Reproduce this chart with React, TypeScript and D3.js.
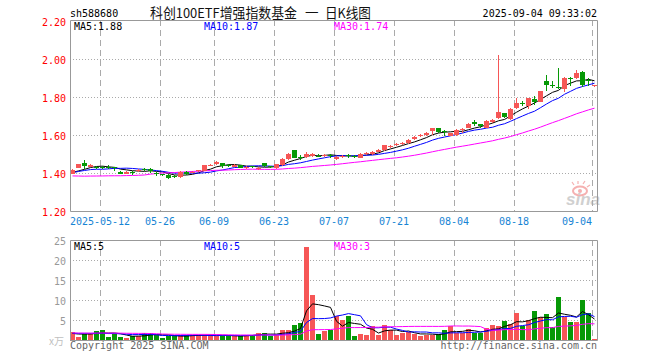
import React from "react";
import * as d3 from "d3";

// ---------- data ----------
const dates = [
  "2025-04-30",
  "2025-05-06", "2025-05-07", "2025-05-08", "2025-05-09",
  "2025-05-12", "2025-05-13", "2025-05-14", "2025-05-15", "2025-05-16",
  "2025-05-19", "2025-05-20", "2025-05-21", "2025-05-22", "2025-05-23",
  "2025-05-26", "2025-05-27", "2025-05-28", "2025-05-29", "2025-05-30",
  "2025-06-03", "2025-06-04", "2025-06-05", "2025-06-06",
  "2025-06-09", "2025-06-10", "2025-06-11", "2025-06-12", "2025-06-13",
  "2025-06-16", "2025-06-17", "2025-06-18", "2025-06-19", "2025-06-20",
  "2025-06-23", "2025-06-24", "2025-06-25", "2025-06-26", "2025-06-27",
  "2025-06-30", "2025-07-01", "2025-07-02", "2025-07-03", "2025-07-04",
  "2025-07-07", "2025-07-08", "2025-07-09", "2025-07-10", "2025-07-11",
  "2025-07-14", "2025-07-15", "2025-07-16", "2025-07-17", "2025-07-18",
  "2025-07-21", "2025-07-22", "2025-07-23", "2025-07-24", "2025-07-25",
  "2025-07-28", "2025-07-29", "2025-07-30", "2025-07-31", "2025-08-01",
  "2025-08-04", "2025-08-05", "2025-08-06", "2025-08-07", "2025-08-08",
  "2025-08-11", "2025-08-12", "2025-08-13", "2025-08-14", "2025-08-15",
  "2025-08-18", "2025-08-19", "2025-08-20", "2025-08-21", "2025-08-22",
  "2025-08-25", "2025-08-26", "2025-08-27", "2025-08-28", "2025-08-29",
  "2025-09-01", "2025-09-02", "2025-09-03", "2025-09-04",
];

const opens = [
  1.400, 1.430, 1.455, 1.436, 1.433, 1.435, 1.433, 1.432, 1.410, 1.397,
  1.410, 1.414, 1.424, 1.423, 1.405, 1.395, 1.392, 1.386, 1.382, 1.410,
  1.406, 1.412, 1.414, 1.442, 1.449, 1.453, 1.446, 1.435, 1.444, 1.432,
  1.437, 1.424, 1.453, 1.437, 1.430, 1.444, 1.474, 1.523, 1.485, 1.485,
  1.490, 1.494, 1.490, 1.498, 1.475, 1.488, 1.495, 1.492, 1.484, 1.500,
  1.503, 1.514, 1.523, 1.543, 1.550, 1.558, 1.558, 1.579, 1.596, 1.605,
  1.626, 1.637, 1.622, 1.598, 1.602, 1.628, 1.642, 1.672, 1.658, 1.642,
  1.672, 1.690, 1.716, 1.685, 1.745, 1.772, 1.754, 1.791, 1.777, 1.886,
  1.864, 1.857, 1.845, 1.902, 1.905, 1.934, 1.890, 1.858,
];
const highs = [
  1.425, 1.452, 1.470, 1.450, 1.437, 1.440, 1.446, 1.436, 1.414, 1.412,
  1.415, 1.424, 1.428, 1.431, 1.408, 1.398, 1.398, 1.390, 1.413, 1.412,
  1.415, 1.421, 1.446, 1.450, 1.465, 1.456, 1.450, 1.449, 1.446, 1.440,
  1.441, 1.432, 1.455, 1.441, 1.452, 1.479, 1.510, 1.524, 1.496, 1.515,
  1.510, 1.500, 1.500, 1.503, 1.490, 1.497, 1.502, 1.496, 1.507, 1.514,
  1.516, 1.528, 1.552, 1.552, 1.560, 1.566, 1.580, 1.596, 1.607, 1.618,
  1.639, 1.641, 1.630, 1.615, 1.632, 1.640, 1.668, 1.680, 1.662, 1.680,
  1.686, 2.022, 1.720, 1.745, 1.795, 1.780, 1.800, 1.810, 1.835, 1.917,
  1.885, 1.956, 1.906, 1.906, 1.944, 1.940, 1.905, 1.868,
];
const lows = [
  1.397, 1.428, 1.426, 1.432, 1.425, 1.426, 1.424, 1.414, 1.395, 1.395,
  1.392, 1.410, 1.415, 1.405, 1.385, 1.385, 1.372, 1.376, 1.378, 1.394,
  1.402, 1.408, 1.412, 1.437, 1.446, 1.430, 1.435, 1.432, 1.428, 1.425,
  1.428, 1.420, 1.436, 1.430, 1.424, 1.440, 1.472, 1.479, 1.472, 1.480,
  1.487, 1.485, 1.486, 1.484, 1.472, 1.484, 1.480, 1.482, 1.482, 1.498,
  1.496, 1.512, 1.520, 1.535, 1.545, 1.552, 1.555, 1.576, 1.590, 1.600,
  1.603, 1.615, 1.600, 1.596, 1.600, 1.615, 1.640, 1.650, 1.640, 1.637,
  1.668, 1.685, 1.690, 1.680, 1.742, 1.755, 1.737, 1.760, 1.775, 1.833,
  1.850, 1.845, 1.828, 1.860, 1.900, 1.855, 1.863, 1.855,
];
const closes = [
  1.420, 1.449, 1.440, 1.447, 1.429, 1.428, 1.430, 1.428, 1.400, 1.410,
  1.405, 1.421, 1.420, 1.415, 1.395, 1.391, 1.378, 1.383, 1.410, 1.398,
  1.410, 1.416, 1.444, 1.446, 1.461, 1.438, 1.443, 1.447, 1.431, 1.435,
  1.434, 1.428, 1.438, 1.434, 1.450, 1.476, 1.505, 1.484, 1.480, 1.505,
  1.505, 1.490, 1.497, 1.495, 1.488, 1.493, 1.491, 1.488, 1.505, 1.510,
  1.514, 1.526, 1.549, 1.547, 1.554, 1.562, 1.575, 1.593, 1.603, 1.612,
  1.637, 1.619, 1.617, 1.612, 1.628, 1.632, 1.663, 1.660, 1.648, 1.675,
  1.680, 1.724, 1.695, 1.742, 1.771, 1.768, 1.798, 1.777, 1.833, 1.868,
  1.860, 1.850, 1.903, 1.896, 1.928, 1.865, 1.885, 1.866,
];
// volume, 万手
const volumes = [
  2.2, 0.95, 1.6, 1.8, 2.4, 2.6, 0.9, 1.7, 0.9, 0.7,
  1.1, 1.1, 2.0, 2.0, 1.3, 0.7, 1.1, 1.1, 1.3, 1.3,
  1.3, 1.3, 1.5, 1.5, 1.1, 1.1, 1.1, 1.1, 1.1, 1.5,
  1.5, 1.9, 2.0, 1.1, 1.5, 2.6, 2.6, 3.9, 4.4, 23.5,
  11.4, 1.6, 2.3, 2.6, 6.2, 5.2, 6.2, 1.1, 1.6, 1.5,
  3.6, 1.5, 3.8, 2.6, 1.5, 1.8, 2.2, 1.6, 1.1, 1.5,
  1.5, 1.6, 2.6, 3.6, 1.8, 1.8, 3.0, 2.0, 2.0, 3.2,
  3.8, 3.6, 5.0, 4.1, 7.0, 3.6, 5.1, 7.5, 5.9, 6.7,
  3.3, 11.0, 5.9, 4.6, 4.6, 10.1, 7.0, 0.5,
];
// sessions before the first visible candle (only feed the moving averages)
const priorCloses = [
  1.47, 1.46, 1.43, 1.42, 1.42, 1.41, 1.42, 1.40, 1.38, 1.39,
  1.39, 1.37, 1.28, 1.30, 1.32, 1.34, 1.34, 1.35, 1.35, 1.34,
  1.38, 1.39, 1.40, 1.41, 1.43, 1.41, 1.40, 1.40, 1.40,
];
const priorVolumes = [
  2.0, 1.8, 2.4, 2.0, 1.6, 1.5, 1.7, 1.6, 1.8, 1.5,
  1.6, 1.9, 3.2, 2.6, 2.8, 2.2, 1.8, 1.7, 1.6, 1.5,
  1.4, 1.5, 1.8, 2.2, 2.4, 1.8, 1.6, 1.8, 1.5,
];

const priceTicks = [1.2, 1.4, 1.6, 1.8, 2.0, 2.2];
const priceTickLabels = ["1.20", "1.40", "1.60", "1.80", "2.00", "2.20"];
const volTicks = [5, 10, 15, 20, 25];
const volTickLabels = ["5", "10", "15", "20", "25"];
const dateTicks = [
  "2025-05-12", "2025-05-26", "2025-06-09", "2025-06-23", "2025-07-07",
  "2025-07-21", "2025-08-04", "2025-08-18", "2025-09-04",
];
const dateTickLabels = [
  "2025-05-12", "05-26", "06-09", "06-23", "07-07", "07-21", "08-04", "08-18", "09-04",
];
const maPeriods = [5, 10, 30];
const maColors = ["#000000", "#0000ff", "#ff00ff"];
const priceLegend = ["MA5:1.88", "MA10:1.87", "MA30:1.74"];
const volLegend = ["MA5:5", "MA10:5", "MA30:3"];

const code = "sh588680";
const titleParts = ["科创100ETF增强指数基金", "一", "日K线图"];
const stamp = "2025-09-04 09:33:02";

// ---------- helpers ----------
function movingAverage(prior: number[], vals: number[], n: number): number[] {
  const all = prior.concat(vals);
  const off = prior.length;
  return vals.map((_, k) => {
    const end = off + k;
    const start = Math.max(0, end - n + 1);
    return d3.mean(all.slice(start, end + 1)) as number;
  });
}

const RED = "#f65656";
const GREEN = "#069906";
const MONO = "'DejaVu Sans Mono', 'Liberation Mono', monospace";
const CJK = "'Noto Sans CJK SC', sans-serif";

export default function App() {
  const left = 70;
  const right = 598;
  const x = d3.scaleBand<string>().domain(dates).range([left, right]).padding(0);
  const bw = x.bandwidth();
  const cx = (d: string) => (x(d) as number) + Math.floor(bw / 2) + 0.5 - 1;
  const yP = d3.scaleLinear().domain([1.2, 2.2]).range([211.5, 21.5]);
  const yV = d3.scaleLinear().domain([0, 25]).range([340.5, 240.5]);

  const priceMAs = maPeriods.map((n) => movingAverage(priorCloses, closes, n));
  const volMAs = maPeriods.map((n) => movingAverage(priorVolumes, volumes, n));

  const lineP = d3
    .line<number>()
    .x((_, i) => cx(dates[i]))
    .y((v) => yP(v));
  const lineV = d3
    .line<number>()
    .x((_, i) => cx(dates[i]))
    .y((v) => yV(v));

  const grid = "#aaaaaa";
  const border = "#999999";

  const panel = (top: number, bottom: number) => (
    <g>
      {dateTicks.map((d) => (
        <line
          key={d}
          x1={(x(d) as number) + 0.5}
          x2={(x(d) as number) + 0.5}
          y1={top}
          y2={bottom}
          stroke={grid}
          strokeWidth={1}
          strokeDasharray="6,4"
          shapeRendering="crispEdges"
        />
      ))}
    </g>
  );

  return (
    <svg
      width={660}
      height={360}
      style={{ position: "absolute", left: 0, top: 0, background: "#fff" }}
      fontFamily={MONO}
    >
      <rect x={0} y={0} width={660} height={360} fill="#fff" />

      {/* header */}
      <text x={70} y={16.5} fontSize={10} fill="#000">{code}</text>
      <text x={150} y={17.5} fontSize={13.5} fill="#111" fontFamily={CJK} textLength={147} lengthAdjust="spacingAndGlyphs">
        {titleParts[0]}
      </text>
      <text x={305} y={17.5} fontSize={13.5} fill="#111" fontFamily={CJK}>{titleParts[1]}</text>
      <text x={325} y={17.5} fontSize={13.5} fill="#111" fontFamily={CJK} textLength={46} lengthAdjust="spacingAndGlyphs">
        {titleParts[2]}
      </text>
      <text x={597} y={16.5} fontSize={10} fill="#000" textAnchor="end">{stamp}</text>

      {/* price panel grid */}
      {priceTicks.slice(1, -1).map((t) => (
        <line
          key={t}
          x1={left}
          x2={right}
          y1={Math.round(yP(t)) - 0.5}
          y2={Math.round(yP(t)) - 0.5}
          stroke={grid}
          strokeDasharray="1,2"
          shapeRendering="crispEdges"
        />
      ))}
      {panel(20, 211)}

      {/* sina watermark */}
      <g opacity={0.55}>
        <ellipse cx={580} cy={191} rx={7} ry={4.5} fill="none" stroke="#ee7070" strokeWidth={2} />
        <circle cx={580} cy={191} r={2} fill="#ee7070" />
        <path d="M574,185 L572,182 M578,184 L578,181 M583,184 L585,181 M587,187 L590,185" stroke="#ee7070" strokeWidth={1.2} />
        <text
          x={566}
          y={205}
          fontSize={17}
          fontWeight="bold"
          fontStyle="italic"
          fill="#aaaaaa"
          fontFamily="'Liberation Sans', sans-serif"
        >
          sina
        </text>
      </g>

      {/* MA lines price */}
      {priceMAs.map((m, i) => (
        <path key={i} d={lineP(m) as string} fill="none" stroke={maColors[i]} strokeWidth={1} />
      ))}

      {/* candles */}
      {dates.map((d, i) => {
        const up = closes[i] >= opens[i];
        const col = up ? RED : GREEN;
        const yTop = Math.round(yP(Math.max(opens[i], closes[i])));
        const yBot = Math.round(yP(Math.min(opens[i], closes[i])));
        const h = Math.max(1, yBot - yTop);
        return (
          <g key={d}>
            <line
              x1={cx(d)}
              x2={cx(d)}
              y1={Math.round(yP(highs[i]))}
              y2={Math.round(yP(lows[i]))}
              stroke={col}
              strokeWidth={1}
              shapeRendering="crispEdges"
            />
            <rect
              x={x(d) as number}
              y={yTop}
              width={bw - 1}
              height={h}
              fill={col}
              shapeRendering="crispEdges"
            />
          </g>
        );
      })}

      {/* price border */}
      <path d={`M${left + 0.5},20.5 H${right - 0.5} V211.5 H${left + 0.5} Z`} fill="none" stroke={border} strokeWidth={1} />

      {/* price axis labels */}
      {priceTicks.map((t, i) => (
        <text key={t} x={66} y={yP(t) + 4} fontSize={10} fill="#ff0000" textAnchor="end">
          {priceTickLabels[i]}
        </text>
      ))}

      {/* legends */}
      {priceLegend.map((s, i) => (
        <text key={s} x={74 + 130 * i} y={29.5} fontSize={10} fill={maColors[i]}>{s}</text>
      ))}

      {/* date labels */}
      {dateTicks.map((d, i) => (
        <text
          key={d}
          x={x(d) as number}
          y={225}
          fontSize={10}
          fill="#1784d4"
          textAnchor={i === dateTicks.length - 1 ? "end" : "middle"}
        >
          {dateTickLabels[i]}
        </text>
      ))}

      {/* volume panel */}
      {volTicks.slice(0, -1).map((t) => (
        <line
          key={t}
          x1={left}
          x2={right}
          y1={yV(t)}
          y2={yV(t)}
          stroke={grid}
          strokeDasharray="1,2"
          shapeRendering="crispEdges"
        />
      ))}
      {panel(240, 340)}

      {dates.map((d, i) => {
        const up = closes[i] >= opens[i];
        const top = Math.round(yV(volumes[i]));
        return (
          <rect
            key={d}
            x={x(d) as number}
            y={top}
            width={bw - 1}
            height={341 - top}
            fill={up ? RED : GREEN}
            shapeRendering="crispEdges"
          />
        );
      })}

      {volMAs.map((m, i) => (
        <path key={i} d={lineV(m) as string} fill="none" stroke={maColors[i]} strokeWidth={1} />
      ))}

      <path d={`M${left + 0.5},240.5 H${right - 0.5} V340.5 H${left + 0.5} Z`} fill="none" stroke={border} strokeWidth={1} />

      {volTicks.map((t, i) => (
        <text key={t} x={66} y={yV(t) + 4} fontSize={10} fill="#999999" textAnchor="end">
          {volTickLabels[i]}
        </text>
      ))}
      <text x={64} y={345} fontSize={10} fill="#c0c0c0" textAnchor="end" fontFamily={CJK}>x万</text>

      {volLegend.map((s, i) => (
        <text key={s} x={74 + 130 * i} y={249.5} fontSize={10} fill={maColors[i]}>{s}</text>
      ))}

      {/* footer */}
      <text x={70} y={349} fontSize={10} fill="#666666">Copyright 2025 SINA.COM</text>
      <text x={597} y={349} fontSize={10} fill="#666666" textAnchor="end">http://finance.sina.com.cn</text>
    </svg>
  );
}
